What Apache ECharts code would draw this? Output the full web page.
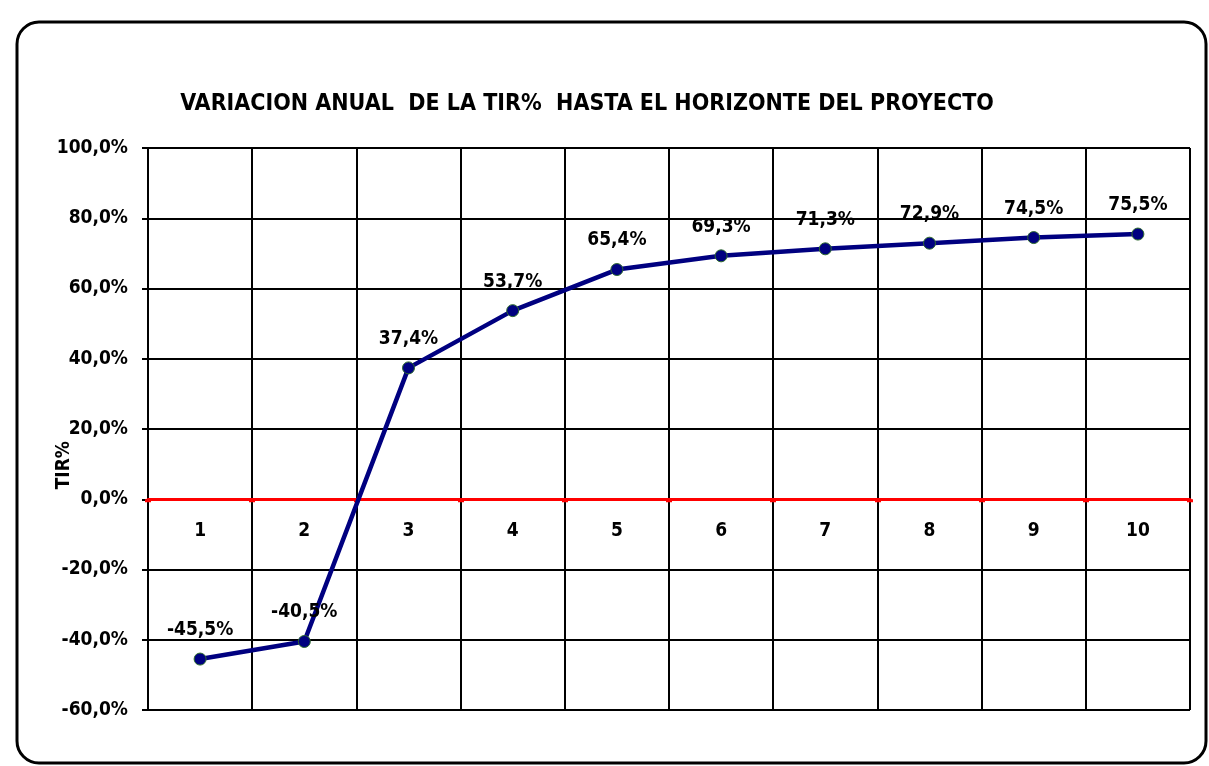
<!DOCTYPE html>
<html>
<head>
<meta charset="utf-8">
<script src="https://cdn.jsdelivr.net/npm/echarts@6/dist/echarts.min.js"></script>
<style>
  html, body { margin: 0; padding: 0; background: #fff; }
  #chart { width: 1209px; height: 766px; }
</style>
</head>
<body>
<div id="chart"></div>
<script>
// años del proyecto
const years = ['1', '2', '3', '4', '5', '6', '7', '8', '9', '10']
// TIR % por año
const tir = [-45.5, -40.5, 37.4, 53.7, 65.4, 69.3, 71.3, 72.9, 74.5, 75.5]
const yMin = -60
const yMax = 100
const yStep = 20

const FONT = '"Liberation Sans Narrow", "DejaVu Sans Condensed", "Liberation Sans", Arial, sans-serif'
const fmt = v => v.toFixed(1).replace('.', ',') + '%'

const gridTop = 148
const gridBottom = 56
const gridH = 766 - gridTop - gridBottom
// el eje X se dibuja sobre el 0 (desplazado desde el borde inferior)
const xOffset = -(0 - yMin) / (yMax - yMin) * gridH

const chart = echarts.init(document.getElementById('chart'))
chart.setOption({
  animation: false,
  backgroundColor: '#fff',
  title: {
    text: 'VARIACION ANUAL  DE LA TIR%  HASTA EL HORIZONTE DEL PROYECTO',
    left: 582,
    textAlign: 'center',
    top: 88,
    textStyle: { fontFamily: FONT, fontSize: 23, fontWeight: 'bold', color: '#000' }
  },
  graphic: [
    // marco redondeado del gráfico
    {
      type: 'rect',
      shape: { x: 17, y: 22, width: 1189, height: 741, r: 22 },
      style: { fill: 'none', stroke: '#000', lineWidth: 3 },
      z: -1
    },
    {
      type: 'text',
      left: 55,
      top: 441,
      rotation: Math.PI / 2,
      style: { text: 'TIR%', fontFamily: FONT, fontSize: 19, fontWeight: 'bold', fill: '#000' }
    }
  ],
  grid: { left: 148, right: 19, top: gridTop, bottom: gridBottom },
  xAxis: {
    type: 'category',
    data: years,
    boundaryGap: true,
    position: 'bottom',
    offset: xOffset,
    axisLine: { onZero: false, lineStyle: { color: '#ff0000', width: 3 } },
    axisTick: { show: true, length: 3, lineStyle: { color: '#ff0000', width: 6 } },
    axisLabel: { margin: 22, fontFamily: FONT, fontSize: 19, fontWeight: 'bold', color: '#000' },
    splitLine: { show: true, lineStyle: { color: '#000', width: 2 } },
    z: 3
  },
  yAxis: {
    type: 'value',
    min: yMin,
    max: yMax,
    interval: yStep,
    axisLine: { show: true, lineStyle: { color: '#000', width: 2 } },
    axisTick: { show: true, length: 6, lineStyle: { color: '#000', width: 2 } },
    axisLabel: { margin: 20, formatter: fmt, fontFamily: FONT, fontSize: 19, fontWeight: 'bold', color: '#000' },
    splitLine: { show: true, lineStyle: { color: '#000', width: 2 } }
  },
  series: [
    {
      type: 'line',
      data: tir,
      symbol: 'circle',
      symbolSize: 12,
      itemStyle: { color: '#000080', borderColor: '#2e6b2e', borderWidth: 1 },
      lineStyle: { color: '#000080', width: 4.5 },
      label: {
        show: true,
        position: 'top',
        distance: 13,
        formatter: p => fmt(p.value),
        fontFamily: FONT,
        fontSize: 19,
        fontWeight: 'bold',
        color: '#000'
      },
      z: 5
    }
  ]
})
</script>
</body>
</html>
